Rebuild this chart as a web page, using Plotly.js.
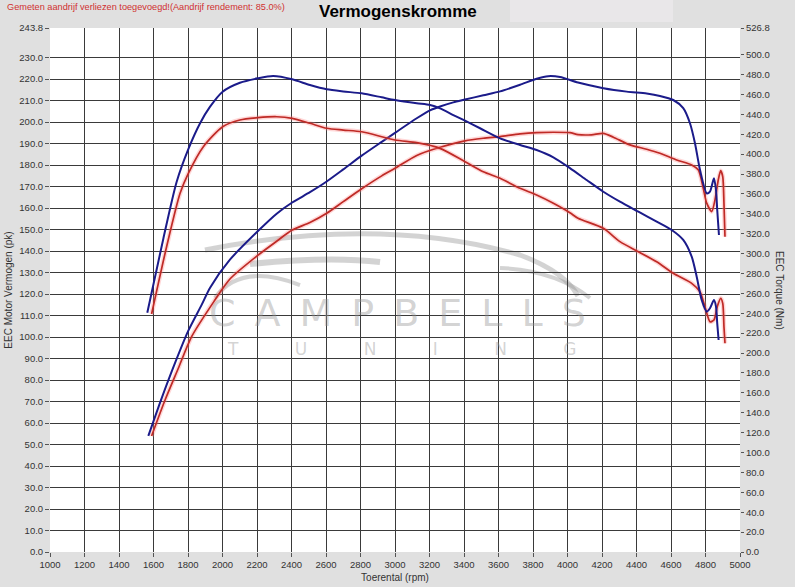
<!DOCTYPE html>
<html>
<head>
<meta charset="utf-8">
<script src="https://cdn.plot.ly/plotly-3.0.1.min.js"></script>
<style>
  html, body { margin: 0; padding: 0; background: #e0e0e0; }
  #chart { width: 795px; height: 587px; }
</style>
</head>
<body>
<div id="chart"></div>
<script>
/* ---------------------------------------------------------------- */
/* DATA                                    */
/* ---------------------------------------------------------------- */
var rpmPowerBlue = [1570, 1647, 1725, 1802, 1879, 1928, 2043, 2204, 2314, 2404, 2507, 2604, 2700, 2807, 2923, 3000, 3126, 3203, 3261, 3338, 3406, 3512, 3609, 3725, 3821, 3888, 3957, 4061, 4208, 4343, 4459, 4536, 4613, 4671, 4710, 4739, 4768, 4807, 4826, 4849, 4861, 4868, 4878];
var powerBlue = [54, 71.5, 88, 103, 115, 123, 136, 149.2, 157.4, 162.6, 167.4, 172.4, 178, 184.4, 190.8, 195, 201.8, 205.5, 207.3, 209.2, 210.5, 212.5, 214.3, 217.4, 220.2, 221.4, 221, 218.4, 215.8, 214.2, 213.3, 212.2, 210.3, 206.5, 199.5, 190.2, 177.8, 166.9, 167.7, 173.9, 168.4, 159.1, 147.5];

var rpmTorqueBlue = [1564, 1657, 1734, 1802, 1870, 1928, 2001, 2101, 2204, 2294, 2404, 2507, 2604, 2700, 2807, 2923, 3000, 3126, 3203, 3261, 3338, 3406, 3493, 3609, 3725, 3821, 3918, 4014, 4111, 4208, 4304, 4411, 4517, 4604, 4671, 4720, 4749, 4778, 4807, 4826, 4849, 4861, 4868, 4876];
var torqueBlue = [240.6, 315, 372, 405, 431, 447.7, 462.8, 471.8, 476.2, 478.5, 475.2, 469.5, 465.2, 463, 461.1, 457.1, 454.4, 451.1, 449.4, 446, 439.3, 433.6, 426, 415.9, 409.2, 404.1, 396.8, 386, 374, 362.2, 352.2, 342.1, 332.1, 323.7, 313.7, 296.9, 276.8, 253.3, 241.6, 245, 253.3, 246.6, 229.9, 213.1];

var rpmPowerRed = [1589, 1667, 1744, 1821, 1950, 2043, 2204, 2314, 2404, 2507, 2604, 2700, 2807, 2923, 3000, 3126, 3261, 3406, 3512, 3609, 3725, 3821, 3918, 4014, 4061, 4139, 4207, 4266, 4362, 4459, 4536, 4633, 4720, 4758, 4787, 4807, 4836, 4855, 4874, 4888, 4900, 4907, 4913];
var powerRed = [54, 70.7, 85.5, 100.2, 116.5, 127, 138, 144.6, 149.8, 153.3, 157.6, 163, 169, 175, 178.5, 184.5, 188.3, 191.3, 192.5, 193.3, 194.5, 195.1, 195.3, 195.1, 194.2, 194.1, 194.8, 193, 189.4, 187.4, 185.5, 182.4, 180.1, 177.8, 169.2, 162.3, 158.4, 163.8, 173.1, 177.4, 174.6, 162.3, 146.7];

var rpmTorqueRed = [1589, 1676, 1754, 1802, 1889, 2001, 2101, 2204, 2314, 2404, 2507, 2604, 2700, 2807, 3000, 3126, 3261, 3406, 3512, 3609, 3725, 3821, 3918, 4014, 4061, 4208, 4304, 4411, 4517, 4613, 4720, 4768, 4797, 4826, 4849, 4868, 4888, 4900, 4907, 4913];
var torqueRed = [239.3, 306.9, 360.6, 380.7, 407.5, 427.6, 434.3, 436.6, 437.6, 436, 431, 426, 424.2, 422.5, 414.2, 411.5, 405.8, 392.4, 382.3, 375.7, 365.6, 358.9, 350.6, 341.1, 335.5, 325.4, 312, 301.9, 291.8, 280.2, 270.1, 261.7, 246.6, 231.5, 233.2, 246.6, 255, 250, 226.5, 209.8];

var rpmTicks = [1000, 1200, 1400, 1600, 1800, 2000, 2200, 2400, 2600, 2800, 3000, 3200, 3400, 3600, 3800, 4000, 4200, 4400, 4600, 4800, 5000];
var powerTicks = [0, 10, 20, 30, 40, 50, 60, 70, 80, 90, 100, 110, 120, 130, 140, 150, 160, 170, 180, 190, 200, 210, 220, 230, 243.8];
var torqueTicks = [0, 20, 40, 60, 80, 100, 120, 140, 160, 180, 200, 220, 240, 260, 280, 300, 320, 340, 360, 380, 400, 420, 440, 460, 480, 500, 526.8];

/* ---------------------------------------------------------------- */
/* STYLE                                                             */
/* ---------------------------------------------------------------- */
var BLUE = '#1b1b8a';
var RED = '#bf2a26';
var GLOW = 'rgba(255,130,130,0.32)';
var FONT = 'Liberation Sans, Arial, sans-serif';
var WM = 'rgba(150,150,150,0.42)';

function curve(x, y, axis, color, width) {
  return {
    x: x, y: y, yaxis: axis, type: 'scatter', mode: 'lines',
    line: {color: color, width: width, shape: 'spline', smoothing: 0.7},
    hoverinfo: 'skip', showlegend: false
  };
}

var traces = [
  curve(rpmPowerRed, powerRed, 'y', GLOW, 4.5),
  curve(rpmTorqueRed, torqueRed, 'y2', GLOW, 4.5),
  curve(rpmPowerRed, powerRed, 'y', RED, 1.7),
  curve(rpmTorqueRed, torqueRed, 'y2', RED, 1.7),
  curve(rpmPowerBlue, powerBlue, 'y', BLUE, 2),
  curve(rpmTorqueBlue, torqueBlue, 'y2', BLUE, 2)
];

// watermark helpers: pixel position on the page -> paper coords
function px(x) { return ((x - 50) / 690).toFixed(4); }
function py(y) { return ((552 - y) / 524).toFixed(4); }
function wm(d, w) {
  return {type: 'path', xref: 'paper', yref: 'paper', layer: 'below',
          path: d, line: {color: WM, width: w}};
}

var carShapes = [
  // roof line
  wm('M ' + px(205) + ' ' + py(250) + ' Q ' + px(380) + ' ' + py(215) + ' ' + px(520) + ' ' + py(255) +
     ' Q ' + px(565) + ' ' + py(272) + ' ' + px(578) + ' ' + py(296), 5),
  // window line
  wm('M ' + px(250) + ' ' + py(264) + ' Q ' + px(330) + ' ' + py(256) + ' ' + px(380) + ' ' + py(262), 6),
  // front arch
  wm('M ' + px(215) + ' ' + py(298) + ' Q ' + px(240) + ' ' + py(262) + ' ' + px(300) + ' ' + py(285), 4),
  // rear arch
  wm('M ' + px(500) + ' ' + py(268) + ' Q ' + px(555) + ' ' + py(270) + ' ' + px(590) + ' ' + py(298), 4)
];

var EN = '\u2002', EM = '\u2003';

var layout = {
  width: 795, height: 587,
  margin: {l: 50, r: 55, t: 28, b: 35, pad: 0},
  paper_bgcolor: '#e0e0e0',
  plot_bgcolor: '#ffffff',
  font: {family: FONT, size: 10, color: '#333333'},
  showlegend: false,
  xaxis: {
    range: [1000, 5000], tickvals: rpmTicks, ticktext: rpmTicks.map(String),
    showgrid: true, gridcolor: '#3a3a3a', gridwidth: 1,
    zeroline: false, showline: false,
    ticks: 'outside', ticklen: 4, tickcolor: '#555',
    tickfont: {size: 9.5, family: FONT, color: '#333'},
    title: {text: 'Toerental (rpm)', font: {size: 10, family: FONT, color: '#333'}, standoff: 4}
  },
  yaxis: {
    range: [0, 243.8], tickvals: powerTicks, ticktext: powerTicks.map(function (v) { return v.toFixed(1); }),
    showgrid: true, gridcolor: '#3a3a3a', gridwidth: 1,
    zeroline: false, showline: false,
    ticks: 'outside', ticklen: 4, tickcolor: '#555',
    tickfont: {size: 9.5, family: FONT, color: '#333'},
    title: {text: 'EEC Motor Vermogen (pk)', font: {size: 10, family: FONT, color: '#333'}, standoff: 4}
  },
  yaxis2: {
    range: [0, 526.8], tickvals: torqueTicks, ticktext: torqueTicks.map(function (v) { return v.toFixed(1); }),
    overlaying: 'y', side: 'right',
    showgrid: false, zeroline: false, showline: false,
    ticks: 'outside', ticklen: 3, tickcolor: '#555',
    tickfont: {size: 9.5, family: FONT, color: '#333'}
  },
  shapes: [
    // lighter box at the top right of the header
    {type: 'rect', xref: 'paper', yref: 'paper', x0: px(510), x1: px(673), y0: py(22), y1: py(0),
     fillcolor: '#e9e7e9', line: {width: 0}, layer: 'below'}
  ].concat(carShapes),
  annotations: [
    {text: '<b>Vermogenskromme</b>', xref: 'paper', yref: 'paper', x: px(398), y: py(11),
     showarrow: false, font: {family: FONT, size: 17, color: '#000'}, xanchor: 'center', yanchor: 'middle'},
    {text: 'Gemeten aandrijf verliezen toegevoegd!(Aandrijf rendement: 85.0%)', xref: 'paper', yref: 'paper',
     x: px(5), y: py(7), showarrow: false, xanchor: 'left', yanchor: 'middle',
     font: {family: FONT, size: 9.2, color: '#d03030'}},
    {text: 'EEC Torque (Nm)', xref: 'paper', yref: 'paper', x: px(780), y: 0.5, textangle: 90,
     showarrow: false, xanchor: 'center', yanchor: 'middle', font: {family: FONT, size: 10, color: '#333'}},
    {text: ['C', 'A', 'M', 'P', 'B', 'E', 'L', 'L', 'S'].join(EN), xref: 'paper', yref: 'paper',
     x: px(398), y: py(313), showarrow: false, xanchor: 'center', yanchor: 'middle',
     font: {family: 'DejaVu Sans', size: 38, color: WM}},
    {text: ['T', 'U', 'N', 'I', 'N', 'G'].join(EM + EM + EM + ' '), xref: 'paper', yref: 'paper',
     x: px(402), y: py(349), showarrow: false, xanchor: 'center', yanchor: 'middle',
     font: {family: 'DejaVu Sans', size: 17, color: WM}}
  ]
};

Plotly.newPlot('chart', traces, layout, {displayModeBar: false, staticPlot: true});
</script>
</body>
</html>
